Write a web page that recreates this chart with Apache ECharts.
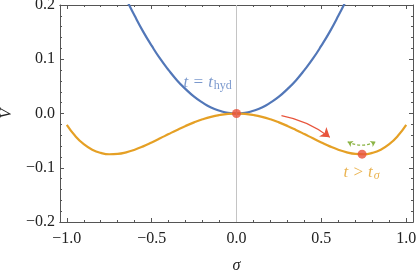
<!DOCTYPE html>
<html><head><meta charset="utf-8">
<script src="https://cdn.jsdelivr.net/npm/echarts@6/dist/echarts.min.js"></script>
<style>html,body{margin:0;padding:0;background:#fff}#c{width:416px;height:271px}</style>
</head><body><div id="c"></div>
<script>
// ---- data ----
const blueSigma = [-0.65,-0.6,-0.55,-0.5,-0.45,-0.4,-0.35,-0.3,-0.25,-0.2,-0.15,-0.1,-0.05,0,0.05,0.1,0.15,0.2,0.25,0.3,0.35,0.4,0.45,0.5,0.55,0.6,0.65];
const blueV = [0.211,0.18,0.151,0.125,0.101,0.08,0.061,0.045,0.031,0.02,0.011,0.005,0.001,0,0.001,0.005,0.011,0.02,0.031,0.045,0.061,0.08,0.101,0.125,0.151,0.18,0.211];
const orangeSigma = [-1,-0.95,-0.9,-0.85,-0.8,-0.75,-0.7,-0.65,-0.6,-0.55,-0.5,-0.45,-0.4,-0.35,-0.3,-0.25,-0.2,-0.15,-0.1,-0.05,0,0.05,0.1,0.15,0.2,0.25,0.3,0.35,0.4,0.45,0.5,0.55,0.6,0.65,0.7,0.75,0.8,0.85,0.9,0.95,1];
const orangeV = [-0.021,-0.0416,-0.0566,-0.0667,-0.0726,-0.0751,-0.0745,-0.0716,-0.0668,-0.0606,-0.0534,-0.0458,-0.0379,-0.0302,-0.0229,-0.0164,-0.0107,-0.0061,-0.0028,-0.0007,0,-0.0007,-0.0028,-0.0061,-0.0107,-0.0164,-0.0229,-0.0302,-0.0379,-0.0458,-0.0534,-0.0606,-0.0668,-0.0716,-0.0745,-0.0751,-0.0726,-0.0667,-0.0566,-0.0416,-0.021];
const dotSigma = [0, 0.74];
const dotV = [0, -0.075];
const redArrow = [[0.265, -0.004], [0.55, -0.044]];
const greenArrow = [[0.655, -0.052], [0.82, -0.052]];
const blueLabelPos = [-0.17, 0.057];
const orangeLabelPos = [0.737, -0.109];
const xMajorTicks = [-1, -0.5, 0, 0.5, 1];
const xMinorTicks = [-0.9,-0.8,-0.7,-0.6,-0.4,-0.3,-0.2,-0.1,0.1,0.2,0.3,0.4,0.6,0.7,0.8,0.9];
const xRange = [-1.04, 1.04];
const yRange = [-0.2, 0.2];

const serif = '"Liberation Serif", "DejaVu Serif", serif';
const axisColor = '#555';
const fmt = v => { const s = (Math.abs(v) < 1e-9 ? 0 : v).toFixed(1); return s.replace('-', '\u2212'); };
const zip = (a, b) => a.map((x, i) => [x, b[i]]);

function xAx(pos, ticks, len, labels) {
  return {
    type: 'value', position: pos, min: xRange[0], max: xRange[1],
    axisLine: { show: true, onZero: false, lineStyle: { color: axisColor, width: 1 } },
    axisTick: { show: true, inside: true, length: len, customValues: ticks, lineStyle: { color: axisColor } },
    axisLabel: labels ? { show: true, customValues: ticks, formatter: fmt, fontFamily: serif, fontSize: 16, color: '#222', margin: 9 } : { show: false },
    splitLine: { show: false },
    name: labels ? '\u03c3' : '', nameLocation: 'middle', nameGap: 36,
    nameTextStyle: { fontFamily: serif, fontStyle: 'italic', fontSize: 16, color: '#222' }
  };
}
function yAx(pos, labels) {
  return {
    type: 'value', position: pos, min: yRange[0], max: yRange[1], interval: 0.1,
    axisLine: { show: true, onZero: false, lineStyle: { color: axisColor, width: 1 } },
    axisTick: { show: true, inside: true, length: 4, lineStyle: { color: axisColor } },
    minorTick: { show: true, splitNumber: 5, length: 2, lineStyle: { color: axisColor } },
    axisLabel: labels ? { show: true, formatter: fmt, fontFamily: serif, fontSize: 16, color: '#222', margin: 5 } : { show: false },
    splitLine: { show: false }, minorSplitLine: { show: false },
    name: labels ? 'V' : '', nameLocation: 'middle', nameGap: 43, nameRotate: 90,
    nameTextStyle: { fontFamily: serif, fontStyle: 'italic', fontSize: 16, color: '#222' }
  };
}

const chart = echarts.init(document.getElementById('c'), null, { renderer: 'canvas' });
chart.setOption({
  animation: false,
  grid: { left: 60, right: 3, top: 5, bottom: 49, containLabel: false, outerBoundsMode: 'none' },
  xAxis: [xAx('bottom', xMajorTicks, 4, true), xAx('bottom', xMinorTicks, 2, false), xAx('top', xMajorTicks, 4, false), xAx('top', xMinorTicks, 2, false)],
  yAxis: [yAx('left', true), yAx('right', false)],
  series: [
    { type: 'line', data: zip(blueSigma, blueV), smooth: true, showSymbol: false, clip: true,
      lineStyle: { color: '#5277b8', width: 2.2 }, z: 3,
      markLine: { silent: true, symbol: 'none', label: { show: false }, animation: false,
        lineStyle: { color: '#c4c4c4', width: 1, type: 'solid' }, data: [{ xAxis: 0 }] } },
    { type: 'line', data: zip(orangeSigma, orangeV), smooth: true, showSymbol: false, clip: true,
      lineStyle: { color: '#e5a025', width: 2.2 }, z: 3 },
    { type: 'lines', coordinateSystem: 'cartesian2d', z: 4,
      symbol: ['none', 'arrow'], symbolSize: 9,
      lineStyle: { color: '#e8553d', width: 1.2, curveness: 0.12, opacity: 1 },
      data: [{ coords: redArrow }] },
    { type: 'lines', coordinateSystem: 'cartesian2d', z: 4,
      symbol: ['arrow', 'arrow'], symbolSize: 5,
      lineStyle: { color: '#8cb446', width: 1.3, type: [3, 2], curveness: -0.25, opacity: 1 },
      data: [{ coords: greenArrow }] },
    { type: 'scatter', data: zip(dotSigma, dotV), symbolSize: 9, z: 5,
      itemStyle: { color: '#e8503a' } },
    { type: 'scatter', symbolSize: 0, z: 6, silent: true,
      data: [{ value: blueLabelPos, label: { show: true, position: 'inside',
        formatter: '{i|t = t}{s|hyd}',
        rich: { i: { fontFamily: serif, fontStyle: 'italic', fontSize: 17, color: '#5a7fc0', lineHeight: 18, verticalAlign: 'middle' },
                s: { fontFamily: serif, fontSize: 12, color: '#5a7fc0', verticalAlign: 'bottom', lineHeight: 12, padding: [7, 0, 0, 1] } } } },
        { value: orangeLabelPos, label: { show: true, position: 'inside',
        formatter: '{i|t > t}{s|\u03c3}',
        rich: { i: { fontFamily: serif, fontStyle: 'italic', fontSize: 17, color: '#e5a025', lineHeight: 18, verticalAlign: 'middle' },
                s: { fontFamily: serif, fontStyle: 'italic', fontSize: 12, color: '#e5a025', verticalAlign: 'bottom', lineHeight: 12, padding: [7, 0, 0, 1] } } } }]
    }
  ]
});
</script></body></html>
